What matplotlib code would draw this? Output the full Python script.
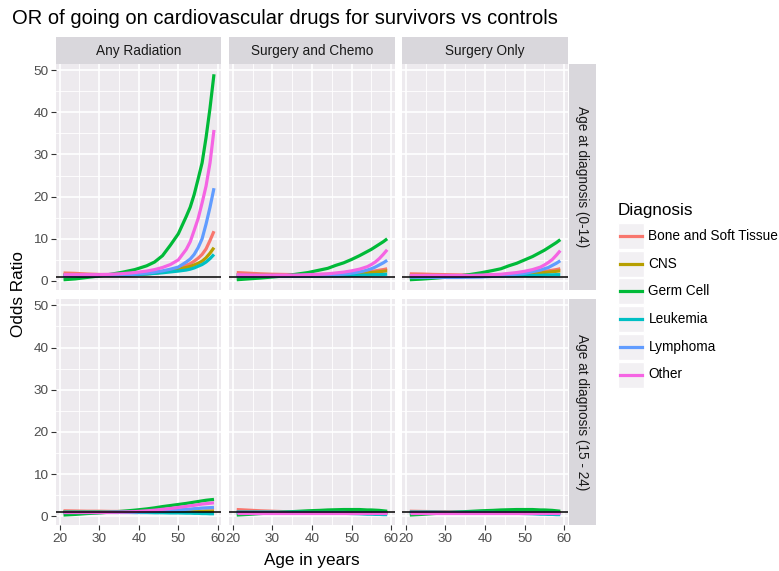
import matplotlib
matplotlib.use("Agg")
import matplotlib.pyplot as plt
from matplotlib.lines import Line2D
from matplotlib.patches import Rectangle
import numpy as np

plt.rcParams["font.family"] = ["Liberation Sans", "DejaVu Sans"]

# ---- data: odds ratio by attained age, one dict per facet ----
ages = [21, 24, 27, 30, 33, 36, 39, 42, 44, 46, 48, 50, 52, 53, 54, 55, 56, 57, 58, 59]
diagnoses = ["Bone and Soft Tissue", "CNS", "Germ Cell", "Leukemia", "Lymphoma", "Other"]
colors = ["#F8766D", "#B79F00", "#00BA38", "#00BFC4", "#619CFF", "#F564E3"]
treatments = ["Any Radiation", "Surgery and Chemo", "Surgery Only"]
age_groups = ["Age at diagnosis (0-14)", "Age at diagnosis (15 - 24)"]

rad_0_14 = {
    "Bone and Soft Tissue": [1.9, 1.8, 1.65, 1.55, 1.5, 1.5, 1.55, 1.7, 1.85, 2.1, 2.5, 3.0, 3.7, 4.1, 4.7, 5.4, 6.3, 7.6, 9.6, 11.8],
    "CNS":                  [1.5, 1.45, 1.4, 1.4, 1.4, 1.45, 1.55, 1.7, 1.85, 2.1, 2.4, 2.8, 3.2, 3.45, 3.8, 4.2, 4.7, 5.5, 6.6, 7.9],
    "Germ Cell":            [0.3, 0.5, 0.85, 1.2, 1.6, 2.1, 2.7, 3.6, 4.5, 6.0, 8.5, 11.2, 15.3, 17.5, 20.5, 24.2, 28.0, 34.0, 41.0, 49.0],
    "Leukemia":             [1.3, 1.3, 1.3, 1.3, 1.35, 1.4, 1.5, 1.65, 1.8, 1.95, 2.15, 2.35, 2.6, 2.8, 3.1, 3.5, 3.9, 4.5, 5.3, 6.3],
    "Lymphoma":             [1.2, 1.2, 1.25, 1.3, 1.35, 1.45, 1.6, 1.85, 2.1, 2.4, 2.8, 3.3, 4.5, 5.2, 6.3, 7.9, 10.0, 13.5, 17.5, 22.0],
    "Other":                [1.5, 1.5, 1.5, 1.5, 1.6, 1.75, 2.0, 2.35, 2.7, 3.2, 3.9, 5.0, 7.5, 9.3, 12.0, 14.8, 18.5, 22.5, 28.0, 35.8],
}
chemo_0_14 = {
    "Bone and Soft Tissue": [2.0, 1.85, 1.7, 1.6, 1.55, 1.5, 1.5, 1.55, 1.6, 1.65, 1.75, 1.85, 2.0, 2.1, 2.2, 2.3, 2.4, 2.55, 2.7, 2.9],
    "CNS":                  [1.5, 1.45, 1.4, 1.35, 1.3, 1.3, 1.3, 1.35, 1.4, 1.45, 1.5, 1.6, 1.75, 1.8, 1.9, 2.0, 2.1, 2.2, 2.3, 2.4],
    "Germ Cell":            [0.3, 0.5, 0.7, 0.95, 1.2, 1.6, 2.0, 2.6, 3.0, 3.7, 4.3, 5.1, 6.0, 6.5, 7.0, 7.5, 8.1, 8.7, 9.3, 10.0],
    "Leukemia":             [1.3, 1.25, 1.2, 1.2, 1.15, 1.15, 1.15, 1.15, 1.2, 1.2, 1.25, 1.3, 1.35, 1.4, 1.4, 1.45, 1.5, 1.5, 1.55, 1.6],
    "Lymphoma":             [1.1, 1.1, 1.1, 1.1, 1.1, 1.1, 1.15, 1.25, 1.35, 1.5, 1.65, 1.85, 2.15, 2.35, 2.6, 2.9, 3.3, 3.8, 4.3, 4.9],
    "Other":                [1.5, 1.45, 1.4, 1.4, 1.4, 1.4, 1.5, 1.6, 1.7, 1.9, 2.1, 2.4, 2.8, 3.1, 3.4, 3.9, 4.5, 5.3, 6.3, 7.4],
}
surg_0_14 = {
    "Bone and Soft Tissue": [1.7, 1.65, 1.55, 1.5, 1.45, 1.4, 1.4, 1.45, 1.5, 1.6, 1.7, 1.8, 2.0, 2.1, 2.2, 2.3, 2.4, 2.55, 2.7, 2.9],
    "CNS":                  [1.3, 1.3, 1.25, 1.2, 1.2, 1.2, 1.25, 1.3, 1.35, 1.4, 1.5, 1.6, 1.75, 1.8, 1.9, 2.0, 2.1, 2.2, 2.3, 2.4],
    "Germ Cell":            [0.3, 0.45, 0.65, 0.9, 1.15, 1.5, 1.95, 2.5, 2.9, 3.6, 4.2, 5.0, 5.8, 6.3, 6.8, 7.3, 7.9, 8.5, 9.1, 9.8],
    "Leukemia":             [1.2, 1.2, 1.15, 1.15, 1.15, 1.15, 1.15, 1.2, 1.2, 1.2, 1.25, 1.3, 1.3, 1.35, 1.35, 1.4, 1.45, 1.45, 1.5, 1.5],
    "Lymphoma":             [0.9, 0.85, 0.85, 0.85, 0.85, 0.9, 0.95, 1.1, 1.2, 1.4, 1.6, 1.8, 2.2, 2.4, 2.6, 2.9, 3.2, 3.7, 4.2, 4.8],
    "Other":                [1.3, 1.3, 1.3, 1.3, 1.3, 1.3, 1.4, 1.5, 1.6, 1.8, 2.0, 2.3, 2.7, 3.0, 3.3, 3.8, 4.4, 5.1, 6.1, 7.2],
}
rad_15_24 = {
    "Bone and Soft Tissue": [1.3, 1.25, 1.2, 1.2, 1.15, 1.15, 1.1, 1.1, 1.1, 1.1, 1.1, 1.15, 1.15, 1.2, 1.2, 1.2, 1.2, 1.25, 1.25, 1.3],
    "CNS":                  [1.1, 1.1, 1.1, 1.1, 1.1, 1.1, 1.1, 1.1, 1.1, 1.1, 1.1, 1.1, 1.1, 1.1, 1.15, 1.15, 1.15, 1.2, 1.2, 1.2],
    "Germ Cell":            [0.3, 0.45, 0.65, 0.8, 1.0, 1.2, 1.45, 1.75, 2.0, 2.3, 2.55, 2.8, 3.05, 3.2, 3.35, 3.5, 3.65, 3.8, 3.9, 4.0],
    "Leukemia":             [1.0, 1.0, 1.0, 1.0, 0.95, 0.95, 0.9, 0.9, 0.85, 0.85, 0.8, 0.8, 0.75, 0.75, 0.7, 0.7, 0.65, 0.65, 0.6, 0.6],
    "Lymphoma":             [0.9, 0.9, 0.9, 0.9, 0.95, 0.95, 1.0, 1.1, 1.15, 1.25, 1.4, 1.5, 1.65, 1.7, 1.8, 1.85, 1.95, 2.0, 2.05, 2.1],
    "Other":                [0.9, 0.9, 0.9, 0.9, 0.95, 1.0, 1.1, 1.3, 1.45, 1.65, 1.85, 2.1, 2.35, 2.5, 2.6, 2.75, 2.9, 3.0, 3.1, 3.2],
}
chemo_15_24 = {
    "Bone and Soft Tissue": [1.6, 1.45, 1.3, 1.2, 1.1, 1.05, 1.0, 1.0, 1.0, 1.0, 1.0, 1.0, 1.0, 1.0, 1.0, 1.0, 1.0, 1.0, 1.0, 1.0],
    "CNS":                  [1.1, 1.1, 1.1, 1.1, 1.1, 1.1, 1.1, 1.1, 1.1, 1.1, 1.1, 1.1, 1.1, 1.1, 1.1, 1.1, 1.1, 1.1, 1.1, 1.1],
    "Germ Cell":            [0.3, 0.45, 0.65, 0.8, 1.0, 1.15, 1.3, 1.4, 1.5, 1.55, 1.6, 1.6, 1.6, 1.55, 1.5, 1.5, 1.45, 1.4, 1.3, 1.2],
    "Leukemia":             [1.0, 1.0, 1.0, 1.0, 0.95, 0.95, 0.9, 0.85, 0.8, 0.75, 0.7, 0.65, 0.6, 0.55, 0.5, 0.5, 0.45, 0.45, 0.4, 0.4],
    "Lymphoma":             [0.9, 0.9, 0.9, 0.9, 0.9, 0.9, 0.9, 0.9, 0.9, 0.9, 0.9, 0.85, 0.85, 0.85, 0.8, 0.8, 0.8, 0.8, 0.8, 0.8],
    "Other":                [0.8, 0.8, 0.8, 0.8, 0.8, 0.8, 0.8, 0.8, 0.8, 0.8, 0.8, 0.8, 0.8, 0.8, 0.8, 0.8, 0.8, 0.8, 0.8, 0.8],
}
surg_15_24 = {
    "Bone and Soft Tissue": [1.2, 1.15, 1.1, 1.1, 1.05, 1.05, 1.0, 1.0, 1.0, 1.0, 1.0, 1.0, 1.0, 1.0, 1.0, 1.0, 1.0, 1.0, 1.0, 1.0],
    "CNS":                  [1.0, 1.0, 1.0, 1.0, 1.0, 1.0, 1.0, 1.0, 1.0, 1.0, 1.0, 1.0, 1.0, 1.0, 1.0, 1.0, 1.0, 1.0, 1.0, 1.0],
    "Germ Cell":            [0.3, 0.45, 0.65, 0.8, 1.0, 1.15, 1.3, 1.4, 1.5, 1.55, 1.6, 1.6, 1.6, 1.55, 1.5, 1.5, 1.45, 1.4, 1.3, 1.2],
    "Leukemia":             [1.0, 1.0, 1.0, 0.95, 0.95, 0.9, 0.9, 0.85, 0.8, 0.75, 0.7, 0.65, 0.6, 0.55, 0.5, 0.5, 0.45, 0.45, 0.4, 0.4],
    "Lymphoma":             [0.9, 0.9, 0.9, 0.9, 0.9, 0.9, 0.9, 0.9, 0.85, 0.85, 0.85, 0.85, 0.8, 0.8, 0.8, 0.8, 0.8, 0.8, 0.8, 0.8],
    "Other":                [0.8, 0.8, 0.8, 0.8, 0.8, 0.8, 0.8, 0.8, 0.8, 0.8, 0.8, 0.8, 0.8, 0.8, 0.8, 0.8, 0.8, 0.8, 0.8, 0.8],
}
facets = [[rad_0_14, chemo_0_14, surg_0_14],
          [rad_15_24, chemo_15_24, surg_15_24]]

# ---- layout (pixels) ----
W, H = 779, 571
PANEL_BG = "#EDEAEE"
STRIP_BG = "#D9D7DC"


def box(x0, y0, w, h):
    return [x0 / W, 1 - (y0 + h) / H, w / W, h / H]


fig = plt.figure(figsize=(W / 100, H / 100), dpi=100)

col_left = [56, 229.2, 402.3]
row_top = [64, 299.3]
pw, ph = 165.5, 226

all_vals = np.concatenate([np.array(v) for row in facets for f in row for v in f.values()])
ylo, yhi = all_vals.min(), all_vals.max()
pad = 0.05 * (yhi - ylo)
xpad = 0.05 * (max(ages) - min(ages))

for r in range(2):
    for c in range(3):
        ax = fig.add_axes(box(col_left[c], row_top[r], pw, ph))
        ax.set_facecolor(PANEL_BG)
        for s in ax.spines.values():
            s.set_visible(False)
        ax.set_xlim(min(ages) - xpad, max(ages) + xpad)
        ax.set_ylim(ylo - pad, yhi + pad)
        ax.set_xticks([20, 30, 40, 50, 60])
        ax.set_xticks([25, 35, 45, 55], minor=True)
        ax.set_yticks([0, 10, 20, 30, 40, 50])
        ax.set_yticks([5, 15, 25, 35, 45], minor=True)
        ax.grid(which="major", color="white", linewidth=1.2)
        ax.grid(which="minor", color="white", linewidth=0.6)
        ax.set_axisbelow(True)
        ax.tick_params(which="major", length=3.5, width=0.8, color="#333333",
                       labelcolor="#4D4D4D", labelsize=9.7, pad=2)
        ax.tick_params(which="minor", length=0)
        if c > 0:
            ax.tick_params(axis="y", length=0, labelleft=False)
        if r == 0:
            ax.tick_params(axis="x", length=0, labelbottom=False)

        data = facets[r][c]
        for name, col in zip(diagnoses, colors):
            ax.plot(ages, data[name], color=col, linewidth=2.3,
                    solid_capstyle="butt", solid_joinstyle="round")
        ax.axhline(1, color="black", linewidth=1.1)

        if r == 0:
            sax = fig.add_axes(box(col_left[c], 37, pw, 27))
            sax.set_facecolor(STRIP_BG)
            sax.set_xticks([])
            sax.set_yticks([])
            for s in sax.spines.values():
                s.set_visible(False)
            sax.text(0.5, 0.5, treatments[c], ha="center", va="center",
                     fontsize=9.8, color="#1A1A1A", transform=sax.transAxes)

    rax = fig.add_axes(box(568.5, row_top[r], 27, ph))
    rax.set_facecolor(STRIP_BG)
    rax.set_xticks([])
    rax.set_yticks([])
    for s in rax.spines.values():
        s.set_visible(False)
    rax.text(0.5, 0.5, age_groups[r], ha="center", va="center", rotation=-90,
             fontsize=9.8, color="#1A1A1A", transform=rax.transAxes)

# titles
fig.text(12 / W, 1 - 18 / H, "OR of going on cardiovascular drugs for survivors vs controls",
         ha="left", va="center", fontsize=14.5)
fig.text((56 + 567.8) / 2 / W, 1 - 560 / H, "Age in years", ha="center", va="center", fontsize=12.3)
fig.text(19 / W, 1 - 294 / H, "Odds Ratio", ha="center", va="center", rotation=90, fontsize=12.3)

# legend
fig.text(617.5 / W, 1 - 210 / H, "Diagnosis", ha="left", va="center", fontsize=12.3)
for i, (name, col) in enumerate(zip(diagnoses, colors)):
    yc = 236 + i * 27.7
    fig.add_artist(Rectangle((617.5 / W, 1 - (yc + 13) / H), 26 / W, 26 / H,
                             transform=fig.transFigure, facecolor="#F2F0F3", edgecolor="white",
                             linewidth=1))
    fig.add_artist(Line2D([620 / W, 641.5 / W], [1 - yc / H, 1 - yc / H],
                          transform=fig.transFigure, color=col, linewidth=2.3))
    fig.text(648.5 / W, 1 - yc / H, name, ha="left", va="center", fontsize=9.8)

fig.savefig("out.png", dpi=100, facecolor="white")
